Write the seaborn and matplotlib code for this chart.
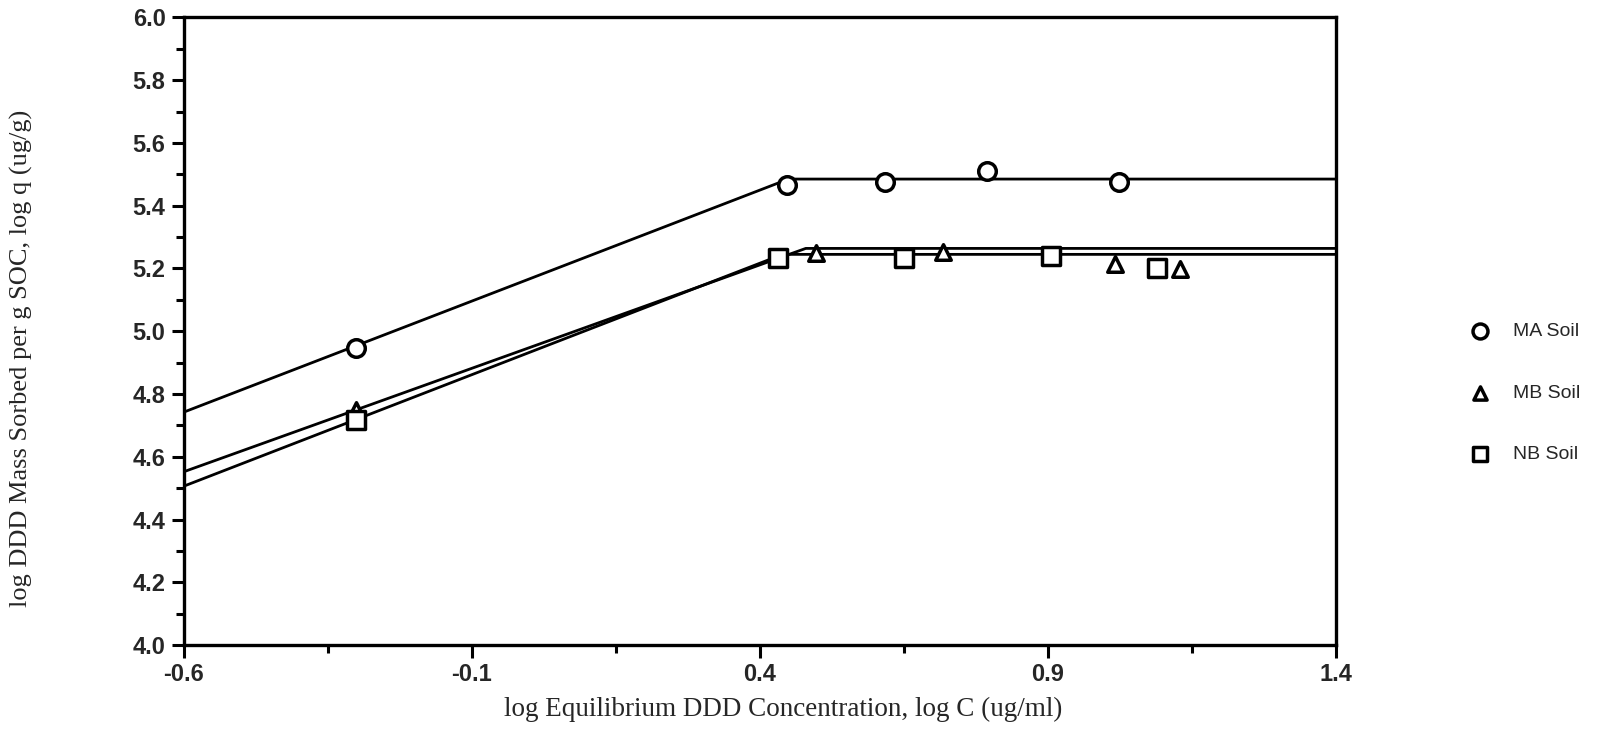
import numpy as np
import pandas as pd
import matplotlib
matplotlib.use("Agg")
import matplotlib.pyplot as plt
import seaborn as sns
from matplotlib.ticker import MultipleLocator, FixedLocator

# Sorption data (log C, log q) for the three soils
ma_x = [-0.30, 0.447, 0.617, 0.795, 1.023]
ma_y = [4.946, 5.465, 5.475, 5.511, 5.475]
mb_x = [-0.30, 0.497, 0.718, 1.017, 1.130]
mb_y = [4.749, 5.248, 5.251, 5.215, 5.199]
nb_x = [-0.30, 0.432, 0.650, 0.906, 1.089]
nb_y = [4.716, 5.232, 5.232, 5.241, 5.202]

# Fitted isotherms: linear rise to a plateau (x breakpoints, y values)
ma_fit_x = [-0.6, 0.45, 1.4]
ma_fit_y = [4.742, 5.485, 5.485]
mb_fit_x = [-0.6, 0.48, 1.4]
mb_fit_y = [4.552, 5.264, 5.264]
nb_fit_x = [-0.6, 0.44, 1.4]
nb_fit_y = [4.506, 5.245, 5.245]

soils = ["MA Soil", "MB Soil", "NB Soil"]
x_ticks = [-0.6, -0.1, 0.4, 0.9, 1.4]
x_minor = [-0.35, 0.15, 0.65, 1.15]
y_ticks = [4.0, 4.2, 4.4, 4.6, 4.8, 5.0, 5.2, 5.4, 5.6, 5.8, 6.0]

points = pd.concat([
    pd.DataFrame({"x": ma_x, "y": ma_y, "soil": soils[0]}),
    pd.DataFrame({"x": mb_x, "y": mb_y, "soil": soils[1]}),
    pd.DataFrame({"x": nb_x, "y": nb_y, "soil": soils[2]}),
])
fits = pd.concat([
    pd.DataFrame({"x": ma_fit_x, "y": ma_fit_y, "soil": soils[0]}),
    pd.DataFrame({"x": mb_fit_x, "y": mb_fit_y, "soil": soils[1]}),
    pd.DataFrame({"x": nb_fit_x, "y": nb_fit_y, "soil": soils[2]}),
])

sns.set_theme(style="white")
plt.rcParams["font.family"] = ["Liberation Sans", "DejaVu Sans"]

fig = plt.figure(figsize=(16.16, 7.37), dpi=100)
ax = fig.add_axes([0.1136, 0.1248, 0.7130, 0.8515])

sns.lineplot(data=fits, x="x", y="y", units="soil", estimator=None,
             color="black", linewidth=2.0, ax=ax, legend=False, sort=False)

marker_map = {soils[0]: "o", soils[1]: "^", soils[2]: "s"}
size_map = {soils[0]: 160, soils[1]: 125, soils[2]: 150}
for s in soils:
    sub = points[points["soil"] == s]
    sns.scatterplot(data=sub, x="x", y="y", marker=marker_map[s],
                    s=size_map[s], facecolor="white", edgecolor="black",
                    linewidth=2.5, ax=ax, zorder=5, label=s, legend=False)

ax.set_xlim(-0.6, 1.4)
ax.set_ylim(4.0, 6.0)
ax.xaxis.set_major_locator(FixedLocator(x_ticks))
ax.xaxis.set_minor_locator(FixedLocator(x_minor))
ax.yaxis.set_major_locator(FixedLocator(y_ticks))
ax.yaxis.set_minor_locator(MultipleLocator(0.1))
ax.set_xticklabels([f"{v:.1f}" for v in x_ticks], fontweight="bold", fontsize=17)
ax.set_yticklabels([f"{v:.1f}" for v in y_ticks], fontweight="bold", fontsize=17)

ax.tick_params(axis="both", which="major", direction="out", length=9, width=2.2,
               color="black", bottom=True, left=True, pad=4)
ax.tick_params(axis="both", which="minor", direction="out", length=6, width=2.2,
               color="black", bottom=True, left=True)
for sp in ax.spines.values():
    sp.set_visible(True)
    sp.set_color("black")
    sp.set_linewidth(2.4)

ax.set_xlabel("log Equilibrium DDD Concentration, log C (ug/ml)",
              family="Liberation Serif", fontsize=19.5)
ax.set_ylabel("log DDD Mass Sorbed per g SOC, log q (ug/g)",
              family="Liberation Serif", fontsize=19)
ax.xaxis.set_label_coords(0.52, -0.083)
ax.yaxis.set_label_coords(-0.131, 0.456)
ax.grid(False)

handles, labels = ax.get_legend_handles_labels()
fig.legend(handles, labels, loc="center left", bbox_to_anchor=(0.893, 0.467),
           frameon=False, fontsize=14, labelspacing=2.25, handletextpad=0.7,
           markerscale=0.85)

fig.savefig("out.png", dpi=100, facecolor="white")
